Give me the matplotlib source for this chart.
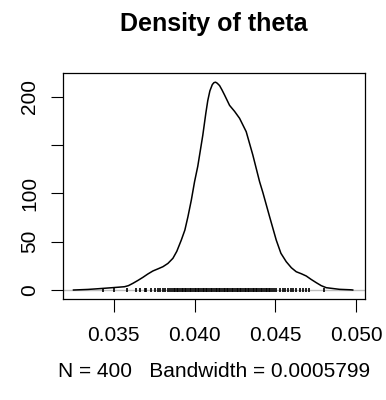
import matplotlib
matplotlib.use("Agg")
import matplotlib.pyplot as plt

plt.rcParams['font.family'] = ['Liberation Sans', 'DejaVu Sans']

# density curve
theta = [0.0325, 0.0334, 0.0341, 0.0349, 0.03566, 0.0359, 0.03618, 0.0365, 0.0368,
         0.0371, 0.03742, 0.03775, 0.03804, 0.03835, 0.03866, 0.0389, 0.03918,
         0.0394, 0.03959, 0.0398, 0.0400, 0.0402, 0.04051, 0.0407, 0.04082,
         0.04095, 0.0411, 0.0412, 0.0413, 0.0414, 0.04155, 0.0417, 0.04186,
         0.04217, 0.04248, 0.04279, 0.0432, 0.04361, 0.04403, 0.04423, 0.04465,
         0.04506, 0.04535, 0.04568, 0.0460, 0.0463, 0.04662, 0.04692, 0.04722,
         0.04754, 0.04785, 0.04816, 0.04898, 0.0497, 0.0498]
dens = [0.0, 0.6, 1.4, 2.4, 3.4, 4.5, 6.9, 10, 13.1,
        16.5, 19.7, 22, 24.1, 27.5, 32.8, 40, 51.7,
        62, 75.8, 93, 112, 128, 160, 183, 196,
        206, 212.5, 214.5, 215, 214, 211.5, 207, 201.7,
        191, 184.8, 177.6, 163.8, 139.7, 112, 101, 75.8,
        51.7, 38, 29.3, 23, 18.9, 16.8, 14.5, 11,
        7.6, 4.5, 2.4, 0.7, 0.2, 0.0]

# rug of sampled values
rug_left = [0.03432, 0.03498, 0.03581, 0.03639, 0.03659, 0.0369, 0.03702, 0.03732,
            0.03752, 0.03771, 0.03783, 0.03802, 0.03814, 0.03833, 0.03845]
rug_mid = [0.0386, 0.0387, 0.0388, 0.0389, 0.0390, 0.0391, 0.0392, 0.0393, 0.0394,
           0.0395, 0.0396, 0.0397, 0.0398, 0.0399, 0.0400, 0.0401, 0.0402, 0.0403,
           0.0404, 0.0405, 0.0406, 0.0407, 0.0408, 0.0409, 0.0410, 0.0411, 0.0412,
           0.0413, 0.0414, 0.0415, 0.0416, 0.0417, 0.0418, 0.0419, 0.0420, 0.0421,
           0.0422, 0.0423, 0.0424, 0.0425, 0.0426, 0.0427, 0.0428, 0.0429, 0.0430,
           0.0431, 0.0432, 0.0433, 0.0434, 0.0435, 0.0436, 0.0437, 0.0438, 0.0439,
           0.0440, 0.0441, 0.0442, 0.0443, 0.0444, 0.0445, 0.0446, 0.0447, 0.0448,
           0.0449]
rug_right = [0.04506, 0.04527, 0.04545, 0.04558, 0.04576, 0.04599, 0.04613, 0.0463,
             0.04651, 0.04669, 0.04692, 0.04712, 0.04805]
rug = rug_left + rug_mid + rug_right

xticks = [0.035, 0.040, 0.045, 0.050]
xticklabels = ['0.035', '0.040', '0.045', '0.050']
yticks = [0, 50, 100, 150, 200]
yticklabels = ['0', '50', '100', '', '200']

fig = plt.figure(figsize=(3.86, 4.0), dpi=100)
ax = fig.add_axes([0.1632, 0.2525, 0.7824, 0.565])

ax.axhline(0, color='#bebebe', lw=1.0, zorder=1)
ax.plot(theta, dens, color='black', lw=1.1, zorder=3)
ax.plot(rug, [0] * len(rug), ls='none', marker='|', color='black',
        markersize=3, markeredgewidth=1.2, zorder=2)

ax.set_xlim(0.03185, 0.05056)
ax.set_ylim(-9.3, 224.5)

ax.set_xticks(xticks)
ax.set_xticklabels(xticklabels)
ax.set_yticks(yticks)
ax.set_yticklabels(yticklabels, rotation=90, va='center')
ax.tick_params(axis='both', length=9, width=0.8, labelsize=15, color='black')
ax.tick_params(axis='x', pad=10.5)
ax.tick_params(axis='y', pad=8)
for s in ax.spines.values():
    s.set_linewidth(0.9)

ax.set_title('Density of theta', fontsize=18, fontweight='bold', pad=30)
ax.set_xlabel('N = 400   Bandwidth = 0.0005799', fontsize=15, labelpad=12)

fig.savefig('out.png', dpi=100)
